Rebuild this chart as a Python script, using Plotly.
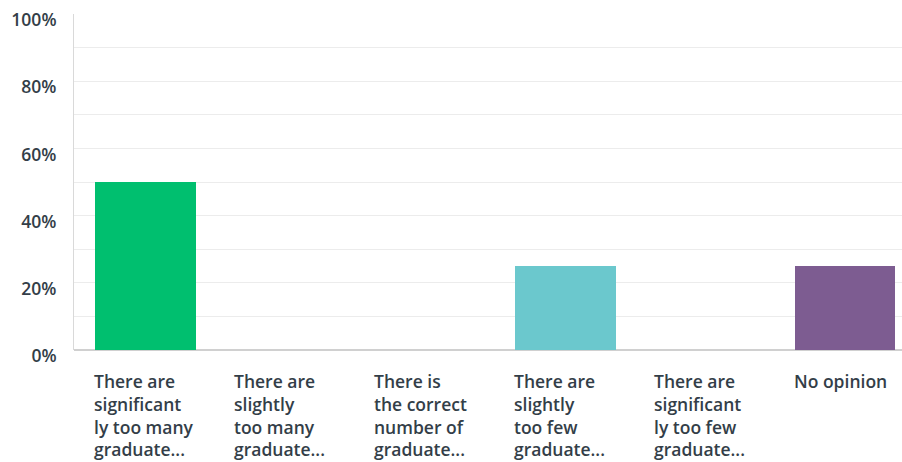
import plotly.graph_objects as go

categories = [
    "There are significantly too many graduate...",
    "There are slightly too many graduate...",
    "There is the correct number of graduate...",
    "There are slightly too few graduate...",
    "There are significantly too few graduate...",
    "No opinion",
]
label_lines = [
    "There are<br>significant<br>ly too many<br>graduate...",
    "There are<br>slightly<br>too many<br>graduate...",
    "There is<br>the correct<br>number of<br>graduate...",
    "There are<br>slightly<br>too few<br>graduate...",
    "There are<br>significant<br>ly too few<br>graduate...",
    "No opinion",
]
values = [50, 0, 0, 25, 0, 25]
colors = ["#00bf6f", "#00bf6f", "#00bf6f", "#6bc8cd", "#6bc8cd", "#7d5c91"]
tick_vals = [0, 20, 40, 60, 80, 100]
tick_text = ["0%", "20%", "40%", "60%", "80%", "100%"]

txt_color = "#333e48"
bar_w = 0.72

fig = go.Figure(go.Bar(
    x=list(range(len(categories))), y=values, marker_color=colors,
    width=bar_w, marker_line_width=0, hovertext=categories,
))

for i, lab in enumerate(label_lines):
    fig.add_annotation(
        x=i - bar_w / 2, xref="x", xanchor="left", xshift=-3,
        y=0, yref="paper", yanchor="top", yshift=-17,
        text=lab, showarrow=False, align="left",
        font=dict(family="Open Sans", size=17.5, color=txt_color, weight=600),
    )

fig.update_layout(
    width=902, height=462,
    margin=dict(l=74, r=0, t=14, b=112),
    plot_bgcolor="white", paper_bgcolor="white",
    showlegend=False,
    bargap=0,
    xaxis=dict(
        range=[-0.511, 5.407], showticklabels=False, showgrid=False,
        zeroline=False, showline=False, ticks="",
    ),
    yaxis=dict(
        range=[0, 100], tickvals=tick_vals, ticktext=tick_text,
        showgrid=True, gridcolor="#ececec", gridwidth=1,
        minor=dict(dtick=10, showgrid=True, gridcolor="#ececec", gridwidth=1),
        zeroline=True, zerolinecolor="#d0d0d0", zerolinewidth=2,
        showline=True, linecolor="#d9d9d9", linewidth=1,
        ticks="", ticklabelstandoff=13, ticklabelshift=6,
        ticklabeloverflow="allow",
        tickfont=dict(family="Open Sans", size=17.5, color=txt_color, weight=600),
    ),
)

fig.write_html("out.html")
